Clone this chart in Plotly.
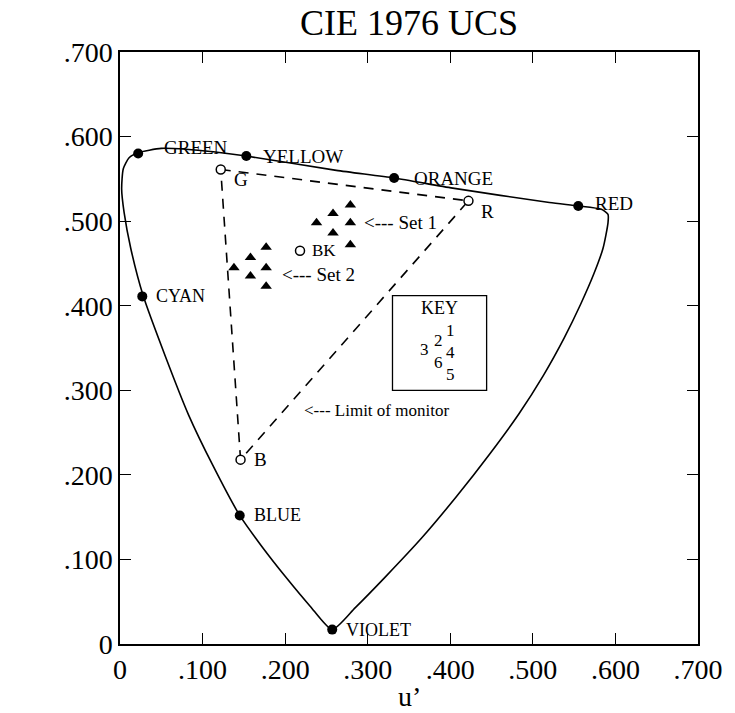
import plotly.graph_objects as go

# ---------------- data ----------------
# spectral locus + boundary (u', v')
locus_u = [0.257, 0.230, 0.200, 0.172, 0.145, 0.112, 0.083, 0.055, 0.028, 0.013, 0.005, 0.002,
           0.004, 0.011, 0.022, 0.050, 0.080, 0.113, 0.153, 0.262, 0.332, 0.403, 0.520, 0.555,
           0.583, 0.591, 0.591, 0.585, 0.574, 0.558, 0.538, 0.513, 0.483, 0.448, 0.408, 0.365,
           0.322, 0.285, 0.257]
locus_v = [0.017, 0.045, 0.080, 0.115, 0.152, 0.212, 0.271, 0.340, 0.412, 0.468, 0.510, 0.538,
           0.562, 0.575, 0.581, 0.586, 0.585, 0.582, 0.577, 0.560, 0.551, 0.539, 0.522, 0.518,
           0.514, 0.508, 0.498, 0.468, 0.438, 0.402, 0.362, 0.318, 0.272, 0.225, 0.175, 0.125,
           0.080, 0.043, 0.017]

color_names = ["GREEN", "YELLOW", "ORANGE", "RED", "CYAN", "BLUE", "VIOLET"]
color_u = [0.022, 0.153, 0.332, 0.555, 0.027, 0.145, 0.257]
color_v = [0.580, 0.577, 0.551, 0.518, 0.411, 0.152, 0.017]

monitor_names = ["G", "R", "B"]
monitor_u = [0.122, 0.422, 0.146]
monitor_v = [0.561, 0.524, 0.218]

bk_u = [0.218]
bk_v = [0.465]

set1_u = [0.279, 0.258, 0.238, 0.279, 0.258, 0.279]
set1_v = [0.519, 0.509, 0.498, 0.498, 0.486, 0.472]
set2_u = [0.177, 0.158, 0.138, 0.177, 0.158, 0.177]
set2_v = [0.469, 0.457, 0.445, 0.445, 0.435, 0.423]

tick_vals = [0, 0.1, 0.2, 0.3, 0.4, 0.5, 0.6, 0.7]
tick_text = ["0", ".100", ".200", ".300", ".400", ".500", ".600", ".700"]

key_box_u = [0.330, 0.444]
key_box_v = [0.300, 0.412]
key_columns = [["3"], ["2", "6"], ["1", "4", "5"]]

# ---------------- figure ----------------
SERIF = "Liberation Serif, Times New Roman, serif"
fig = go.Figure()

fig.add_trace(go.Scatter(x=locus_u, y=locus_v, mode="lines",
                         line=dict(color="black", width=1.6, shape="spline", smoothing=0.6),
                         hoverinfo="skip", showlegend=False))

# monitor gamut triangle (dashed)
fig.add_trace(go.Scatter(x=monitor_u + [monitor_u[0]], y=monitor_v + [monitor_v[0]],
                         mode="lines", line=dict(color="black", width=1.6, dash="10px,8px"),
                         hoverinfo="skip", showlegend=False))

fig.add_trace(go.Scatter(x=color_u, y=color_v, mode="markers",
                         marker=dict(color="black", size=10, symbol="circle"),
                         showlegend=False))

fig.add_trace(go.Scatter(x=monitor_u + bk_u, y=monitor_v + bk_v, mode="markers",
                         marker=dict(color="white", size=9, symbol="circle",
                                     line=dict(color="black", width=1.5)),
                         showlegend=False))

fig.add_trace(go.Scatter(x=set1_u + set2_u, y=set1_v + set2_v, mode="markers",
                         marker=dict(color="black", size=10, symbol="triangle-up"),
                         showlegend=False))

ann = []


def f(size):
    return dict(family=SERIF, size=size, color="black")


color_shift = {"GREEN": (24, 6, 19), "YELLOW": (15, 0, 19), "ORANGE": (18, 0, 19),
               "RED": (15, 2, 19), "CYAN": (12, 0, 18), "BLUE": (12, 0, 18),
               "VIOLET": (12, 0, 18)}
for name, u, v in zip(color_names, color_u, color_v):
    xs, ys, fs = color_shift[name]
    ann.append(dict(x=u, y=v, text=name, showarrow=False, xanchor="left", yanchor="middle",
                    xshift=xs, yshift=ys, font=f(fs)))

mon_shift = {"G": (11, -10), "R": (11, -11), "B": (11, 0)}
for name, u, v in zip(monitor_names, monitor_u, monitor_v):
    xs, ys = mon_shift[name]
    ann.append(dict(x=u, y=v, text=name, showarrow=False, xanchor="left", yanchor="middle",
                    xshift=xs, yshift=ys, font=f(19)))
ann.append(dict(x=bk_u[0], y=bk_v[0], text="BK", showarrow=False, xanchor="left",
                yanchor="middle", xshift=10, font=f(17)))

ann.append(dict(x=max(set1_u), y=set1_v[2], text="<--- Set 1", showarrow=False,
                xanchor="left", yanchor="middle", xshift=12, font=f(19)))
ann.append(dict(x=max(set2_u), y=set2_v[2], text="<--- Set 2", showarrow=False,
                xanchor="left", yanchor="middle", xshift=14, yshift=-7, font=f(19)))
ann.append(dict(x=0.220, y=0.276, text="<--- Limit of monitor", showarrow=False,
                xanchor="left", yanchor="middle", font=f(17)))

# key box
kx0, kx1 = key_box_u
ky0, ky1 = key_box_v
fig.add_shape(type="rect", x0=kx0, x1=kx1, y0=ky0, y1=ky1,
              line=dict(color="black", width=1.3), fillcolor="rgba(0,0,0,0)")
kc = (kx0 + kx1) / 2
ann.append(dict(x=kc, y=ky1, text="KEY", showarrow=False, yanchor="middle", yshift=-12,
                font=f(18)))
# pixel offsets of each digit column (centre) from the box's top centre
col_pos = [(-15, -54), (-1, -56), (11, -57)]
for digits, (xs, ys) in zip(key_columns, col_pos):
    ann.append(dict(x=kc, y=ky1, text="<br>".join(digits), showarrow=False,
                    xanchor="center", yanchor="middle", xshift=xs, yshift=ys,
                    borderpad=0, font=f(17)))

# axis titles
ann.append(dict(x=-0.098, y=0.37, xref="x", yref="y", text="v’", showarrow=False,
                font=f(28)))
ann.append(dict(x=0.35, y=-0.089, xref="x", yref="paper", text="u’", showarrow=False,
                yanchor="middle", font=f(28)))

fig.update_layout(
    width=735, height=713,
    margin=dict(l=120, r=31, t=52, b=69),
    paper_bgcolor="white", plot_bgcolor="white",
    title=dict(text="CIE 1976 UCS", x=0.5565, xanchor="center", y=0.969, yanchor="middle",
               font=f(36)),
    annotations=ann,
    showlegend=False,
)

axis_common = dict(range=[0, 0.7], tickvals=tick_vals, ticktext=tick_text, showgrid=False,
                   zeroline=False, showline=True, linecolor="black", linewidth=1.5,
                   mirror="ticks", ticks="inside", ticklen=11, tickwidth=1.3,
                   tickcolor="black", tickfont=f(28))

fig.update_xaxes(**axis_common)
fig.update_yaxes(**axis_common)

fig.write_html("out.html",
               config={"displayModeBar": False},
               post_script="document.body.style.margin='0px';"
                           "document.body.style.overflow='hidden';")
